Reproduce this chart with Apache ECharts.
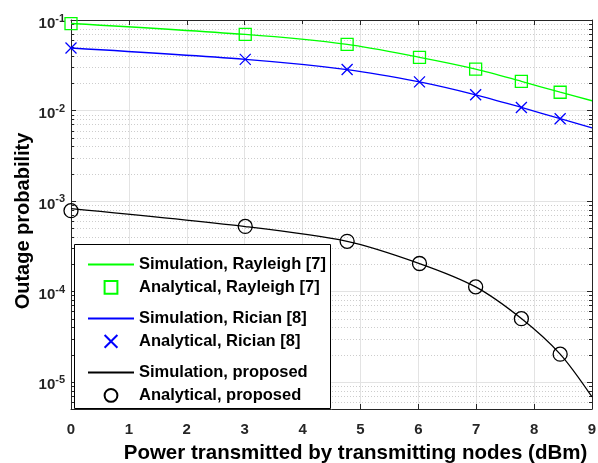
<!DOCTYPE html>
<html>
<head>
<meta charset="utf-8">
<script src="https://cdn.jsdelivr.net/npm/echarts@6/dist/echarts.min.js"></script>
<style>html,body{margin:0;padding:0;background:#fff;}#c{width:598px;height:463px;}</style>
</head>
<body>
<div id="c"></div>
<script>
// ---- data ----
var markerX = [0, 3.01, 4.77, 6.02, 6.99, 7.78, 8.45];          // dBm
var lineX   = [0, 3.01, 4.77, 6.02, 6.99, 7.78, 8.45, 9];
var rayleighSim = [0.0915, 0.0692, 0.0537, 0.0387, 0.0287, 0.0210, 0.0159, 0.0128];
var rayleighAna = [0.0910, 0.0692, 0.0537, 0.0387, 0.0287, 0.0210, 0.0159];
var ricianSim   = [0.0490, 0.0367, 0.0283, 0.0207, 0.0149, 0.0108, 0.0081, 0.0064];
var ricianAna   = [0.0490, 0.0367, 0.0283, 0.0207, 0.0149, 0.0108, 0.0081];
var proposedSim = [8.2e-4, 5.2e-4, 3.57e-4, 2.03e-4, 1.12e-4, 5.0e-5, 2.02e-5, 6.8e-6];
var proposedAna = [7.8e-4, 5.22e-4, 3.57e-4, 2.03e-4, 1.12e-4, 4.99e-5, 2.02e-5];
var xTicks = [0, 1, 2, 3, 4, 5, 6, 7, 8, 9];
var yMin = 5e-6, yMax = 0.1;
var names = ['Simulation, Rayleigh [7]', 'Analytical, Rayleigh [7]',
             'Simulation, Rician [8]', 'Analytical, Rician [8]',
             'Simulation, proposed', 'Analytical, proposed'];

// minor log ticks (2..9 x 10^k) inside the range
var minorTicks = [];
for (var k = -6; k <= -2; k++) {
  for (var m = 2; m <= 9; m++) {
    var v = m * Math.pow(10, k);
    if (v > yMin && v < yMax) minorTicks.push([0, v]);
  }
}

function zip(xs, ys) { return ys.map(function (y, i) { return [xs[i], y]; }); }

var FONT = "'Liberation Sans', Arial, sans-serif";
var AX = '#262626';

var chart = echarts.init(document.getElementById('c'), null, {renderer: 'canvas'});

function simSeries(name, xs, ys, color) {
  return {name: name, type: 'line', data: zip(xs, ys), symbol: 'none', smooth: 0.3,
    lineStyle: {color: color, width: 1.3}, itemStyle: {color: color}, z: 3};
}
function anaSeries(name, xs, ys, color, symbol, size) {
  return {name: name, type: 'line', data: zip(xs, ys), symbol: symbol, symbolSize: size,
    showSymbol: true, showAllSymbol: true,
    lineStyle: {width: 0, color: 'transparent'},
    itemStyle: {color: 'none', borderColor: color, borderWidth: 1.3}, z: 4};
}

var CROSS = 'path://M0,0L10,10M10,0L0,10';

function legendBlock(n1, n2, top) {
  return {
    orient: 'vertical', left: 87, top: top, padding: 0, z: 10,
    itemWidth: 46, itemHeight: 16, itemGap: 5.5,
    textStyle: {fontFamily: FONT, fontSize: 16.5, fontWeight: 'bold', color: '#000', lineHeight: 16},
    selectedMode: false,
    data: [{name: n1, itemStyle: {opacity: 0}}, {name: n2}]
  };
}

var option = {
  animation: false,
  backgroundColor: '#fff',
  grid: {left: 71, right: 6, top: 20, bottom: 54, containLabel: false, outerBoundsMode: 'none'},
  xAxis: [{
    type: 'value', min: 0, max: 9, interval: 1, position: 'bottom',
    name: 'Power transmitted by transmitting nodes (dBm)', nameLocation: 'middle', nameGap: 34,
    nameMoveOverlap: false,
    nameTextStyle: {fontFamily: FONT, fontSize: 20.5, fontWeight: 'bold', color: '#000', padding: [0, 0, 0, 48]},
    axisLine: {show: true, onZero: false, lineStyle: {color: AX, width: 1}},
    axisTick: {show: true, inside: true, length: 5, lineStyle: {color: AX}},
    axisLabel: {fontFamily: FONT, fontSize: 15, fontWeight: 'bold', color: AX, margin: 13,
      formatter: function (v) { return xTicks.indexOf(v) >= 0 ? String(v) : ''; }},
    splitLine: {show: true, lineStyle: {color: '#e3e3e3', width: 1}}
  }, {
    type: 'value', min: 0, max: 9, interval: 1, position: 'top',
    axisLine: {show: true, onZero: false, lineStyle: {color: AX, width: 1}},
    axisTick: {show: true, inside: true, length: 5, lineStyle: {color: AX}},
    axisLabel: {show: false}, splitLine: {show: false}
  }],
  yAxis: [{
    type: 'log', logBase: 10, min: yMin, max: yMax, position: 'left',
    name: 'Outage probability', nameLocation: 'middle', nameGap: 38, nameRotate: 90,
    nameMoveOverlap: false,
    nameTextStyle: {fontFamily: FONT, fontSize: 20, fontWeight: 'bold', color: '#000', padding: [0, 13, 0, 0]},
    axisLine: {show: true, onZero: false, lineStyle: {color: AX, width: 1}},
    axisTick: {show: true, inside: true, length: 5, lineStyle: {color: AX}},
    axisLabel: {
      margin: 6, padding: [4, 0, 0, 0],
      formatter: function (v) {
        var e = Math.log10(v), r = Math.round(e);
        if (Math.abs(e - r) > 1e-6) return '';
        return '{b|10}{s|' + r + '}';
      },
      rich: {
        b: {fontFamily: FONT, fontSize: 15, fontWeight: 'bold', color: AX, lineHeight: 18, verticalAlign: 'bottom'},
        s: {fontFamily: FONT, fontSize: 11, fontWeight: 'bold', color: AX, lineHeight: 11, verticalAlign: 'top'}
      }
    },
    splitLine: {show: true, lineStyle: {color: '#e3e3e3', width: 1}}
  }, {
    type: 'log', logBase: 10, min: yMin, max: yMax, position: 'right',
    axisLine: {show: true, onZero: false, lineStyle: {color: AX, width: 1}},
    axisTick: {show: true, inside: true, length: 5, lineStyle: {color: AX}},
    axisLabel: {show: false}, splitLine: {show: false}
  }],
  legend: [
    legendBlock(names[0], names[1], 256),
    legendBlock(names[2], names[3], 310),
    legendBlock(names[4], names[5], 364)
  ],
  graphic: [{
    type: 'rect', z: 5, silent: true,
    shape: {x: 74.5, y: 244.5, width: 256, height: 164},
    style: {fill: '#fff', stroke: '#000', lineWidth: 1}
  }],
  series: [
    {
      type: 'custom', name: 'minor', silent: true, z: 1, clip: false,
      xAxisIndex: 0, yAxisIndex: 0,
      data: minorTicks,
      renderItem: function (params, api) {
        var pt = api.coord([0, api.value(1)]);
        var cs = params.coordSys;
        var y = Math.round(pt[1]) + 0.5;
        return {type: 'group', children: [
          {type: 'line', shape: {x1: cs.x, y1: y, x2: cs.x + cs.width, y2: y},
            style: {stroke: '#cdcdcd', lineWidth: 1, lineDash: [1, 2]}},
          {type: 'line', shape: {x1: cs.x, y1: y, x2: cs.x + 3, y2: y}, style: {stroke: AX, lineWidth: 1}},
          {type: 'line', shape: {x1: cs.x + cs.width - 3, y1: y, x2: cs.x + cs.width, y2: y}, style: {stroke: AX, lineWidth: 1}}
        ]};
      }
    },
    simSeries(names[0], lineX, rayleighSim, '#00ff00'),
    anaSeries(names[1], markerX, rayleighAna, '#00ff00', 'rect', 12),
    simSeries(names[2], lineX, ricianSim, '#0000ff'),
    anaSeries(names[3], markerX, ricianAna, '#0000ff', CROSS, 11),
    simSeries(names[4], lineX, proposedSim, '#000000'),
    anaSeries(names[5], markerX, proposedAna, '#000000', 'circle', 14)
  ]
};
chart.setOption(option);
</script>
</body>
</html>
